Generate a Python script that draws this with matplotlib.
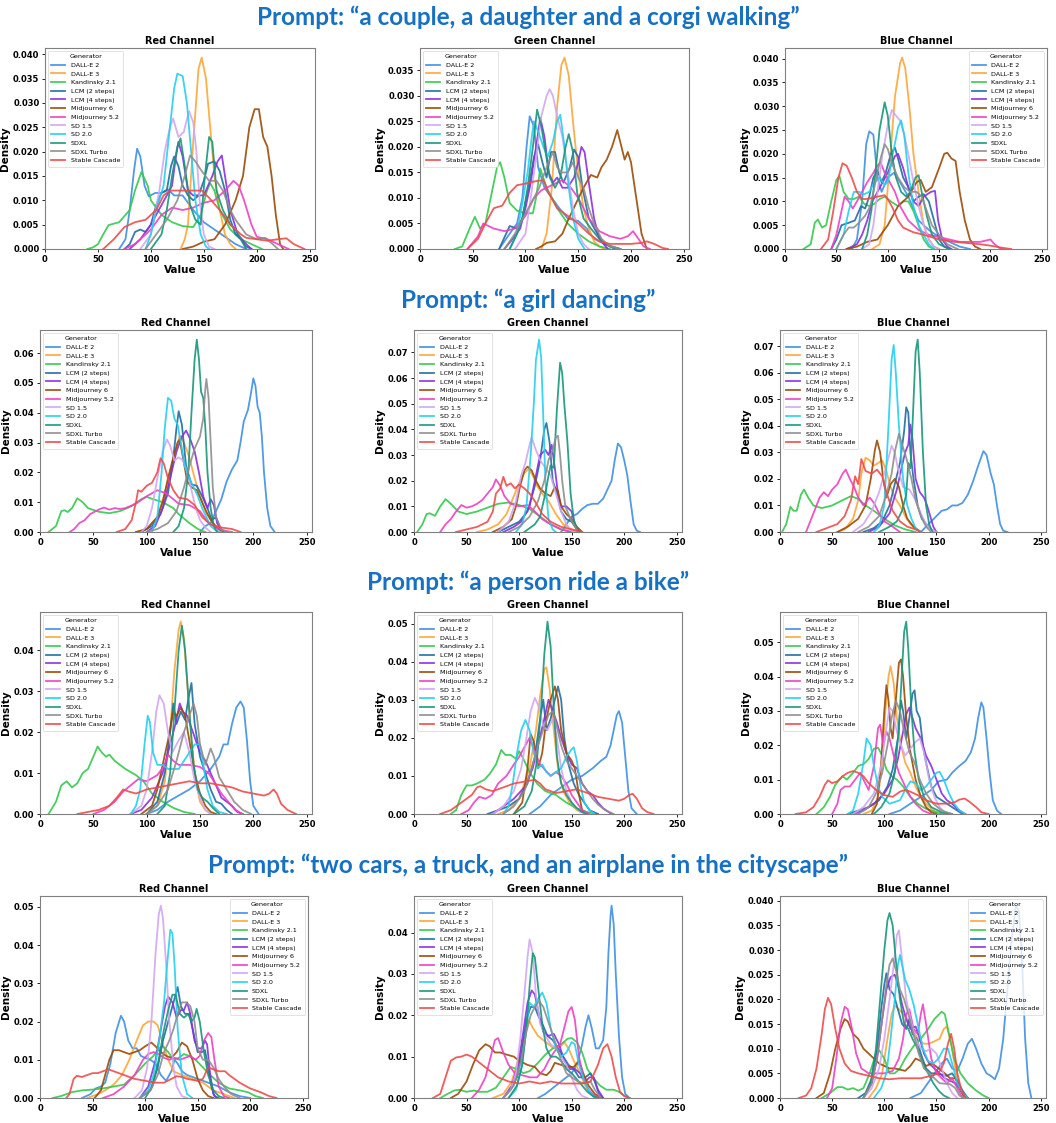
import numpy as np
import matplotlib
matplotlib.use('agg')
import matplotlib.pyplot as plt

# generators and their line colours
generators = ['DALL-E 2', 'DALL-E 3', 'Kandinsky 2.1', 'LCM (2 steps)', 'LCM (4 steps)',
              'Midjourney 6', 'Midjourney 5.2', 'SD 1.5', 'SD 2.0', 'SDXL', 'SDXL Turbo',
              'Stable Cascade']
colors = ['#3d8fe6', '#ffa537', '#33c94c', '#1f6da3', '#8a2ee0', '#9b4a06',
          '#ef3fc4', '#d2a6f2', '#22d0f0', '#16977a', '#8e8e8e', '#f04a4a']

prompts = ['a couple, a daughter and a corgi walking', 'a girl dancing',
           'a person ride a bike', 'two cars, a truck, and an airplane in the cityscape']
channels = ['Red Channel', 'Green Channel', 'Blue Channel']

# density curves: [value, density*1000, value, density*1000, ...]
couple_red = [
    [70,0, 76,2, 80,8, 84,16, 87,20.6, 90,19, 94,13, 98,10.8, 104,11.5, 110,11.5, 116,12.3, 122,11, 130,11, 140,8, 150,5.5, 160,4, 170,2.5, 180,1, 190,0],
    [128,0, 132,2, 135,5, 140,22, 145,37, 148,39.3, 152,35, 156,25, 160,15, 165,8, 170,3, 175,1, 180,0],
    [40,0, 45,0.3, 50,1, 55,3, 60,4.9, 70,5.5, 80,8, 85,12, 91,15.8, 97,13, 100,10, 110,7, 120,5.5, 130,4.7, 140,4.5, 147,7, 153,12, 156,13.5, 160,12, 165,8, 175,4, 185,2, 195,1, 205,0],
    [75,0, 80,1, 85,3.5, 90,4, 95,3.5, 100,5, 105,9, 110,11.5, 115,12, 119,17, 122,19, 126,17, 130,13, 135,11, 140,10, 145,11, 150,14, 154,17.5, 160,18, 165,16, 170,12, 175,6, 180,3, 185,2, 190,0.5, 195,0],
    [80,0, 90,2, 100,5, 110,9, 120,13, 123,18, 126,22, 130,19, 135,12, 140,11, 150,11, 158,15, 163,18, 167,19.2, 170,15, 175,8, 182,3, 190,1, 195,0],
    [130,0, 140,0.5, 150,1.5, 160,2, 170,5, 180,10, 187,15, 193,25, 198,28.7, 202,28.7, 206,23, 210,21, 214,15, 218,7, 222,1, 225,0],
    [75,0, 85,1, 100,4, 110,7, 120,8.5, 130,8, 140,8.5, 150,9.5, 160,10, 170,12, 178,14, 183,13, 188,10, 195,5, 200,2.5, 210,2, 220,1, 230,0],
    [90,0, 100,3, 108,12, 113,20, 118,25, 121,26.8, 126,23, 131,24, 136,28.3, 140,26, 143,20, 146,10, 150,3, 155,0.5, 160,0],
    [95,0, 100,3, 105,8, 112,13, 118,25, 122,33, 125,36, 130,35.5, 134,30, 138,20, 142,10, 147,3, 152,0.5, 155,0],
    [100,0, 110,3, 115,8, 120,15, 125,21, 128,22.7, 132,17, 137,9, 142,6, 147,5, 151,15, 155,23, 158,22, 162,12, 168,8, 175,5, 180,4, 185,2, 190,0],
    [95,0, 105,3, 115,6, 125,10, 132,15, 137,19.2, 142,18, 148,16, 155,14, 162,14, 168,12, 175,8, 180,6, 190,3, 200,2, 208,2.3, 215,1, 220,0],
    [55,0, 65,2, 75,4.5, 85,5.5, 95,6, 105,8, 112,11, 118,12, 130,12, 148,12, 155,10.5, 165,8, 175,5, 185,3, 190,2.3, 200,2, 210,1.7, 220,2, 228,2.2, 235,1, 245,0],
]
couple_green = [
    [75,0, 85,3, 92,5, 97,10, 101,20, 104,26, 108,24, 112,16, 118,12, 125,10, 132,8, 140,6, 150,5.5, 158,4, 165,2, 175,1, 190,0],
    [115,0, 120,3, 125,12, 130,28, 134,36, 137,37.5, 141,34, 145,25, 150,15, 155,8, 160,4, 165,1.5, 170,0.5, 175,0],
    [33,0, 40,0.5, 47,4, 52,6.3, 57,4, 62,5, 68,11, 73,16, 76,17, 80,14, 85,9, 92,7.5, 100,7, 107,7, 110,10, 114,15.8, 120,12, 130,8, 140,5, 150,3, 160,1.5, 170,0.5, 180,0],
    [75,0, 85,4.5, 92,4, 97,6, 103,12, 108,18, 112,20.5, 116,17, 120,14, 124,19, 128,19, 132,15, 136,13, 142,16, 146,19.5, 150,18, 154,12, 160,6, 168,3, 175,1, 185,0],
    [80,0, 88,2, 95,4, 100,8, 105,13, 110,20, 114,25.7, 118,22, 122,15, 126,13, 130,14, 135,12, 140,12, 146,14, 150,17, 153,20, 156,19, 160,13, 165,6, 170,2, 178,0],
    [110,0, 115,0.5, 120,1.2, 128,1.5, 135,3, 140,5.5, 148,9, 155,12, 162,14.5, 168,14, 172,16, 177,17.5, 182,20, 187,23.3, 191,20, 194,17.5, 197,19, 200,17, 205,10, 210,3, 215,0],
    [45,0, 55,2.5, 60,5, 70,4, 80,3.5, 90,4, 100,6.5, 108,10, 115,11.5, 125,12.5, 135,13.5, 143,12, 150,10, 160,6, 170,3.5, 180,2.5, 190,2, 197,2.5, 202,3.5, 207,2, 212,0.5, 218,0],
    [90,0, 100,3, 105,10, 110,18, 115,26, 120,30, 123,31.3, 126,30, 130,26, 135,22, 140,15, 145,8, 150,3, 155,1, 160,0],
    [85,0, 92,3, 97,9, 102,15, 106,22, 108,25, 112,23, 117,20, 121,18, 126,21, 130,25, 133,26.3, 137,20, 141,12, 145,6, 150,2, 156,0],
    [85,0, 92,3, 97,6, 102,12, 107,20, 111,27.3, 115,24, 119,19, 123,14, 128,12, 133,14, 138,20, 141,22.5, 145,19, 149,11, 155,6, 162,4, 170,2, 180,0.5, 190,0],
    [80,0, 90,3, 100,7, 108,10, 113,12, 120,16, 126,19, 130,16, 134,15, 140,15, 145,17, 150,14, 155,12, 160,8, 165,5, 172,2, 180,0.5, 190,0],
    [45,0, 55,2, 62,5, 70,8, 78,8.5, 85,11, 92,12.5, 100,12.8, 110,13.3, 117,13.5, 122,11, 130,8, 140,6.5, 150,5, 160,3, 170,1.5, 180,1, 200,1, 210,1.2, 215,1.5, 222,1, 230,0.2, 235,0],
]
couple_blue = [
    [65,0, 70,2, 75,10, 79,22, 82,24.7, 86,24, 90,15, 94,12, 100,15, 106,16, 112,14, 120,11, 130,6, 140,4, 150,2.5, 160,1.5, 170,0.5, 180,0],
    [85,0, 92,1, 97,5, 102,18, 107,32, 112,39, 114,40.2, 117,38, 121,30, 125,20, 130,12, 135,5, 140,2, 145,0.5, 150,0],
    [18,0, 25,1, 29,5.5, 32,6.2, 36,4.5, 40,5, 45,10, 50,14.5, 53,15.3, 57,12, 62,10.5, 67,10.5, 72,11, 77,9.5, 82,9, 87,9.5, 92,10.5, 97,11, 103,10, 110,9, 115,10, 120,10, 125,8, 130,5, 135,2, 140,0.5, 145,0],
    [45,0, 50,2, 55,5, 62,5.5, 68,6, 74,9, 78,8.5, 82,11, 86,15, 90,16.5, 94,14, 98,16, 103,20, 107,21.3, 110,19, 115,15, 120,13, 125,10, 130,11, 135,11.5, 140,10, 145,6, 150,2, 155,0.5, 160,0],
    [60,0, 70,1, 75,3, 80,6, 85,10, 90,12, 95,14, 100,16, 107,19.5, 110,20, 115,17, 120,13, 125,10, 130,9, 135,11, 142,12, 146,12.2, 149,6, 153,2, 158,0.5, 162,0],
    [60,0, 70,0.5, 80,1.5, 90,2, 100,5, 110,9, 120,11, 128,14, 132,14.5, 137,12, 143,13, 150,17, 155,20, 158,20.2, 162,19, 166,18.5, 170,12, 175,6, 180,2, 185,0.5, 190,0],
    [45,0, 50,3, 55,8, 58,11, 62,10, 66,8.5, 70,10, 75,12, 80,14, 86,16, 90,17.5, 93,18.2, 97,16, 102,14, 107,12, 112,9, 120,6, 130,4, 140,3, 150,2.5, 160,2, 170,1.5, 190,1.5, 196,1.8, 200,2, 203,1.2, 208,0.3, 212,0],
    [75,0, 82,1, 86,5, 90,12, 95,20, 100,26, 104,29.2, 108,28, 112,27, 116,24, 120,20, 125,14, 130,9, 135,5, 140,2, 145,0.5, 150,0],
    [50,0, 57,3, 62,8, 67,12, 72,12, 77,11.5, 82,12, 87,14, 92,15, 97,13.5, 100,14, 105,20, 110,25.5, 113,27, 116,24, 120,16, 125,9, 130,5, 135,3, 140,1, 145,0],
    [75,0, 80,3, 84,8, 88,16, 92,25, 97,30.8, 100,28, 104,20, 108,15, 113,12, 118,11, 122,12, 127,15, 130,15.5, 133,12, 138,7, 143,3, 150,1, 160,0],
    [50,0, 57,3, 62,4.5, 67,4.5, 72,5.5, 78,7, 83,9, 88,14, 93,19, 97,22, 100,21, 104,18, 110,15, 116,13, 122,12, 128,12, 133,11, 138,8, 143,5, 150,3, 158,1, 168,0],
    [35,0, 42,2, 47,8, 52,15, 56,18, 60,17.5, 65,15, 70,12, 75,10.5, 80,10.5, 90,11, 97,11.3, 100,10.5, 105,8.5, 110,6, 115,4.5, 125,3.5, 135,3, 150,2, 165,1.5, 180,1.2, 190,1, 200,0.7, 210,0.3, 220,0],
]
girl_red = [
    [150,0, 155,2, 160,3, 165,7, 170,11, 175,17, 180,21, 185,24, 188,30, 191,37, 195,41, 198,47, 200,51.5, 202,49, 204,42, 206,40, 208,32, 210,20, 213,8, 216,2, 220,0],
    [90,0, 100,1, 110,5, 117,13, 122,20, 127,27, 131,32.3, 135,30, 140,25, 145,18, 150,12, 155,7, 160,4, 165,2, 170,0.5, 175,0],
    [8,0, 15,2, 20,7, 23,7.3, 26,6.7, 30,8, 35,11.3, 40,10, 45,8, 55,6.8, 65,6.3, 75,7, 85,8.5, 95,11, 100,11.8, 106,11, 115,10, 125,8, 130,6, 140,3, 148,1, 155,0],
    [95,0, 105,2, 113,6, 120,13, 125,25, 128,35, 130,40.5, 133,36, 137,22, 142,16, 147,15.5, 152,12, 157,8, 161,4, 165,5, 169,1, 172,0],
    [100,0, 108,2, 115,8, 122,18, 128,27, 133,32, 137,34, 141,31, 145,27, 149,20, 153,12, 157,8, 160,11, 163,9, 166,3, 170,0.5, 173,0],
    [90,0, 100,1, 110,5, 115,10, 120,18, 125,25, 129,30, 131,31, 134,25, 138,17, 142,15, 147,14, 152,10, 157,6, 162,3, 167,1, 172,0],
    [28,0, 32,1, 37,3, 42,4, 47,6, 55,7.5, 60,8.2, 65,7.5, 70,8, 75,7.7, 80,8, 90,9.5, 100,12, 110,14, 118,13, 125,11, 130,9.5, 140,9, 150,7, 158,3, 165,1.5, 172,0.5, 180,0],
    [95,0, 100,2, 105,8, 110,18, 115,27, 119,31, 122,29, 126,24, 130,25, 134,24, 138,20, 142,14, 146,8, 150,4, 155,1.5, 160,0],
    [105,0, 110,5, 114,20, 117,35, 120,45, 123,44, 126,38, 129,36, 132,30, 136,22, 140,18, 144,15, 148,12, 152,8, 156,5, 160,2, 165,0.5, 170,0],
    [125,0, 130,2, 135,8, 139,20, 142,40, 145,58, 147,64.5, 149,58, 151,47, 153,45, 155,35, 157,20, 160,8, 163,2, 166,0],
    [100,0, 110,1, 120,3, 128,7, 135,15, 140,22, 145,28, 150,32, 153,38, 155,48, 156,51.3, 158,45, 160,30, 162,15, 165,5, 170,1, 175,0],
    [72,0, 80,1, 86,4, 90,10, 92,14, 95,13.5, 100,15.5, 105,16.5, 110,20, 113,24.7, 116,23, 120,18, 125,14, 130,11.5, 138,11, 145,9, 152,5, 160,2.5, 170,1.5, 180,1, 188,0],
]
girl_green = [
    [140,0, 145,3, 150,6, 155,7, 160,9, 165,10.5, 170,11, 175,11, 180,13, 184,16.5, 188,20, 191,28, 194,34.5, 197,33, 200,28, 203,22, 206,12, 209,3, 212,0.5, 215,0],
    [60,0, 70,1, 80,3, 88,7, 95,14, 100,19, 105,23, 109,24.5, 113,22, 117,18, 122,15, 128,12, 135,7, 142,3, 150,1, 158,0],
    [3,0, 8,3, 12,7, 15,7.3, 20,6.3, 25,10, 30,12.8, 35,11, 42,8, 50,7, 60,8, 70,9.5, 80,11, 90,11.5, 100,10.5, 110,9, 120,6, 130,3, 140,1, 150,0],
    [80,0, 90,2, 100,4, 108,8, 115,18, 120,28, 124,40, 126,42.5, 129,35, 132,20, 136,15, 140,8, 145,5, 150,4, 155,1, 158,0],
    [85,0, 95,2, 102,4, 110,10, 116,22, 120,30, 125,32, 128,30, 131,34, 134,25, 137,15, 140,10, 145,10, 150,8, 153,3, 157,0],
    [75,0, 85,2, 93,5, 97,10, 101,18, 105,24, 108,25.5, 112,24, 116,20, 120,17, 125,15, 130,14, 134,17.5, 137,16, 140,10, 145,7, 150,5, 155,2, 160,0],
    [25,0, 30,3, 35,5, 40,8, 45,10.5, 50,9.5, 55,10, 60,11, 65,12.5, 70,15, 75,17.5, 78,20.5, 82,18, 86,14, 92,11, 100,10, 108,10.5, 115,8, 122,5, 130,3, 140,1, 150,0],
    [80,0, 90,4, 97,12, 102,22, 106,27, 110,34, 112,37, 115,33, 120,28, 125,25, 130,22, 135,15, 140,8, 145,3, 150,0.5, 155,0],
    [97,0, 103,3, 107,10, 111,30, 114,50, 116,67, 119,75, 121,68, 123,45, 125,20, 128,5, 132,1, 135,0],
    [105,0, 115,3, 120,6, 125,15, 128,22, 130,26, 133,25, 136,48, 139,66, 141,62, 143,50, 146,35, 149,15, 152,5, 155,1, 158,0],
    [90,0, 100,2, 110,6, 118,12, 124,20, 128,28, 132,32, 135,37, 137,37.5, 139,30, 141,20, 144,10, 148,6, 152,3, 156,0],
    [40,0, 50,1, 60,2, 70,4, 75,8, 78,15, 82,17, 85,21.5, 88,18, 92,19, 96,17, 100,18.5, 105,17, 110,15, 115,12, 122,7, 130,4, 140,2, 150,1, 160,0],
]
girl_blue = [
    [135,0, 140,2, 145,4, 150,6, 155,8, 160,8.5, 165,10, 170,10, 175,11, 180,14, 185,19, 190,25, 195,30.5, 198,29, 202,22, 205,18, 208,10, 211,3, 214,0.5, 218,0],
    [55,0, 62,1, 70,5, 75,12, 78,22, 82,28, 86,27, 90,25, 94,26, 98,27, 102,23, 106,17, 110,13, 115,10, 120,6, 125,3, 130,1, 135,0],
    [2,0, 6,3, 10,9.5, 13,8, 16,8, 20,14, 23,16, 27,13, 32,10, 40,9, 50,10, 60,12, 68,13.5, 75,12.5, 82,10, 90,8, 100,5, 110,2.5, 120,1, 130,0],
    [80,0, 90,1.5, 98,4, 105,10, 110,18, 115,26, 119,38, 121,47, 123,45, 125,30, 128,20, 132,10, 136,5, 140,3, 145,1, 150,0],
    [85,0, 95,2, 105,7, 112,16, 117,25, 120,30, 123,33, 125,40.5, 127,35, 130,20, 134,15, 138,13, 141,10, 144,6, 147,2, 150,0],
    [55,0, 65,2, 75,5, 82,10, 87,20, 91,31, 93,34.5, 96,30, 99,20, 102,13, 106,18, 110,20, 114,17, 118,10, 122,5, 128,2, 135,0],
    [25,0, 30,5, 35,10, 38,13, 42,15, 46,13.5, 50,16, 55,18, 60,22, 63,23.5, 67,20, 71,17, 75,13, 80,10, 86,13, 90,11, 95,7, 100,4, 108,2, 115,0],
    [70,0, 80,3, 88,8, 95,15, 100,22, 104,28, 107,32.5, 110,30, 113,24, 118,17, 124,16, 130,12, 135,7, 140,3, 145,1, 150,0],
    [90,0, 95,2, 100,10, 104,40, 107,65, 109,70.5, 111,60, 114,40, 118,20, 122,10, 126,5, 130,1.5, 135,0],
    [95,0, 105,2, 112,4, 117,8, 121,14, 123,26, 125,24, 127,40, 130,68, 132,72.5, 134,60, 137,30, 140,10, 143,3, 146,0],
    [75,0, 85,2, 95,6, 102,14, 107,22, 110,30, 114,37, 117,33, 121,28, 126,20, 130,12, 135,6, 140,2, 145,0],
    [35,0, 45,1.5, 55,3, 62,6, 68,12, 72,21, 75,18, 78,27.5, 82,23, 88,22, 93,23.5, 98,21, 102,15, 108,8, 115,4, 122,2, 130,1, 135,0],
]
bike_red = [
    [100,0, 110,1, 120,3, 130,4.5, 140,6, 150,8, 160,11, 168,14, 172,17, 176,17, 180,22, 184,26, 188,27.5, 191,26, 194,18, 197,8, 200,2, 205,0],
    [100,0, 110,2, 117,8, 122,20, 126,35, 130,45, 132,47, 135,43, 138,32, 142,18, 146,8, 150,3, 155,1, 160,0],
    [8,0, 15,3, 20,7, 25,8, 30,6.5, 35,7.5, 40,10, 45,11, 50,14, 54,16.5, 58,15, 62,14, 65,14.5, 70,13, 80,11, 90,9.5, 97,8, 105,5, 115,3, 125,1.5, 135,0.5, 145,0],
    [100,0, 110,3, 117,10, 122,20, 125,27, 128,22, 132,25, 136,23, 139,28, 142,32, 145,22, 150,14, 155,10, 160,6, 165,3, 170,2.5, 175,1, 180,0],
    [85,0, 95,1, 105,4, 115,10, 122,17, 127,22, 131,27, 134,25, 138,24, 142,21, 146,18, 150,15, 155,13, 160,10, 165,7, 170,4, 175,3, 180,2, 185,0.5, 190,0],
    [95,0, 105,2, 110,6, 115,12, 120,18, 125,25, 128,24, 132,26, 136,24, 140,18, 145,10, 150,5, 155,2, 160,0.5, 165,0],
    [50,0, 60,1, 70,3, 78,5.5, 85,7, 92,8.5, 100,8, 110,9.5, 117,12, 120,14.5, 125,13, 130,12, 140,12, 150,11.5, 158,10, 163,8, 170,5, 178,2.5, 183,1, 190,0],
    [85,0, 95,2, 100,6, 105,15, 109,25, 112,29, 116,27, 120,20, 124,15, 130,18, 135,20, 140,15, 145,8, 150,4, 155,1, 160,0],
    [85,0, 90,2, 94,6, 98,17, 101,24, 103,22.5, 106,15, 110,12, 115,12, 120,11, 130,11, 135,13, 140,15, 145,17, 150,17, 153,12, 157,6, 162,2, 168,0.5, 175,0],
    [110,0, 117,2, 122,10, 126,25, 130,40, 133,46, 136,40, 140,25, 144,12, 148,6, 152,4, 157,3, 162,1.5, 168,0],
    [100,0, 110,2, 120,6, 128,13, 135,20, 140,24, 144,27, 147,24, 150,17, 155,12, 160,16, 163,14, 168,9, 175,6, 182,3, 190,1, 198,0],
    [35,0, 45,0.5, 55,1, 65,2, 72,4, 78,6, 83,5.5, 90,5, 100,6, 110,6.5, 120,7, 130,7.5, 140,8, 150,7.5, 160,7.5, 170,7, 180,6.5, 190,5.5, 200,5, 210,4.5, 215,5, 219,6, 222,5, 226,2.5, 232,1, 240,0],
]
bike_green = [
    [110,0, 120,2, 130,5, 140,7, 150,9, 160,10, 170,12, 178,14, 183,15, 187,18, 190,22, 193,26, 195,27, 198,24, 201,15, 204,6, 207,1.5, 212,0],
    [80,0, 90,1, 100,4, 110,12, 116,22, 120,31, 124,38, 126,38.5, 129,33, 133,22, 137,12, 142,6, 148,3, 155,1, 165,0],
    [35,0, 40,1, 45,5, 50,7.5, 55,7.5, 60,8, 67,9, 72,10.5, 78,13, 83,16.8, 87,15.5, 92,15.5, 97,14.5, 100,16.5, 104,14.5, 110,11, 117,8, 125,6, 135,5, 145,3, 155,1.5, 165,0.5, 175,0],
    [70,0, 80,1, 90,2, 100,4, 108,8, 115,15, 120,25, 123,30, 126,22, 130,25, 134,30, 137,33.5, 140,30, 143,20, 147,13, 152,8, 157,5, 162,3, 167,1, 175,0],
    [75,0, 85,2, 95,4, 105,7, 113,12, 118,18, 124,25, 128,30, 132,27, 136,24, 140,20, 145,16, 150,13, 155,12, 160,8, 165,6, 170,5, 175,3, 180,1.5, 188,0],
    [95,0, 103,3, 108,12, 111,21, 114,19, 118,12, 122,16, 126,25, 130,30, 134,33.5, 137,30, 140,22, 145,16, 150,14, 153,12, 157,5, 160,1, 163,0],
    [45,0, 52,1, 57,3, 62,4.5, 68,4, 74,5, 80,8, 88,10, 95,13, 100,15, 106,18, 110,20, 114,17, 120,13, 125,11.5, 130,10, 135,11, 140,10, 145,8, 150,5, 155,3, 160,1, 167,0],
    [75,0, 85,2, 95,6, 102,12, 107,20, 111,27, 115,30.5, 119,28, 123,23, 127,22, 132,25, 136,20, 140,12, 145,6, 150,3, 158,0.5, 165,0],
    [85,0, 90,2, 94,8, 98,16, 102,22, 106,24.7, 110,22, 114,16, 118,12, 122,13, 126,11, 130,10, 135,11, 140,12, 145,15, 150,17, 152,17.5, 155,14, 158,8, 162,3, 167,1, 172,0],
    [95,0, 105,2, 112,6, 117,14, 121,28, 124,42, 127,50.5, 130,44, 133,28, 136,15, 140,8, 145,5, 150,3, 155,1.5, 160,0.5, 165,0],
    [85,0, 95,2, 105,6, 112,12, 118,18, 124,23, 128,26, 132,27, 135,24, 140,18, 145,14, 150,12, 155,10, 160,8, 165,6, 170,4, 175,2.5, 182,1, 190,0],
    [25,0, 35,1, 45,3, 55,5, 60,7, 63,7.3, 68,6.5, 75,6, 85,7, 95,8, 105,8.5, 115,9, 120,8, 125,6.5, 135,5.5, 145,6, 155,6.5, 165,5.5, 175,4.5, 185,4, 195,3.5, 200,4, 205,5, 208,5.3, 212,4, 217,1.5, 222,0.5, 228,0],
]
bike_blue = [
    [105,0, 115,1, 125,3, 135,5, 145,7, 152,9.5, 160,10, 165,12, 172,14, 178,15.5, 183,18, 187,22, 190,28, 193,32.5, 195,31, 198,22, 201,12, 204,4, 208,1, 212,0],
    [80,0, 88,1, 94,5, 98,15, 101,30, 104,40, 106,43, 109,38, 112,28, 116,20, 120,15, 125,12, 130,8, 135,5, 140,3, 145,1.5, 150,0.5, 155,0],
    [35,0, 42,2, 48,5, 53,8.5, 57,10, 60,11, 64,10, 70,12, 75,14, 80,14.5, 85,16, 90,19, 94,19.3, 98,17, 102,13, 107,11, 112,10, 118,8, 125,5, 132,3, 140,1.5, 150,0.5, 158,0],
    [65,0, 75,1, 85,2, 95,4, 103,8, 108,13, 113,22, 116,33, 118,30, 121,22, 124,28, 127,35, 129,36, 131,30, 134,28, 137,20, 140,15, 145,8, 150,5, 155,4, 160,3, 165,2, 170,1, 175,0],
    [70,0, 80,1, 90,3, 100,6, 108,10, 113,16, 118,24, 121,29, 124,31, 127,28, 130,25, 135,22, 140,17, 145,14, 150,10, 155,6, 160,4, 165,3, 170,1.5, 177,0],
    [88,0, 93,3, 97,15, 100,30, 102,37.5, 104,33, 106,25, 108,22, 111,33, 114,44, 116,45, 118,40, 121,28, 125,18, 130,10, 135,5, 140,2, 145,0.5, 150,0],
    [50,0, 55,3, 58,7, 62,8, 67,8, 72,10, 77,12, 80,10, 85,7, 90,14, 94,25, 96,26, 99,20, 102,24, 105,22, 109,17, 114,12, 120,8, 125,5, 130,3, 137,1, 145,0],
    [70,0, 80,2, 90,6, 97,14, 102,25, 105,31, 108,30, 112,24, 116,20, 120,17, 125,19, 130,21, 134,22, 138,18, 143,10, 148,5, 153,2, 160,0],
    [65,0, 70,1, 75,6, 80,15, 83,22, 87,20, 90,14, 94,8, 98,5, 105,3, 115,4, 120,7, 125,9.5, 130,9, 135,7, 140,8, 145,10, 150,12, 153,12.3, 157,10, 162,6, 167,3, 172,1, 178,0],
    [90,0, 97,2, 105,6, 110,12, 114,25, 117,42, 119,53, 121,56, 123,48, 126,30, 129,18, 133,10, 138,5, 145,2, 155,0.5, 165,0],
    [75,0, 85,2, 92,6, 98,12, 103,20, 107,28, 111,33, 115,30, 119,24, 124,18, 129,15, 134,10, 140,6, 147,3, 155,1, 165,0],
    [15,0, 25,0.5, 32,2, 38,5, 43,8.5, 46,9.8, 50,9, 55,9.5, 60,11, 65,12, 70,12.5, 75,12, 80,11, 85,9, 92,7, 100,5.5, 108,5, 115,6.5, 120,7, 125,6.5, 132,5.5, 140,4, 150,3, 160,3, 168,3.5, 172,4.2, 177,4.5, 182,3.5, 188,2, 193,0.5, 200,0],
]
cars_red = [
    [40,0, 48,1, 53,2.5, 58,3, 62,4, 67,9, 72,17, 77,21.5, 80,20, 84,15, 88,13, 92,13, 96,11, 100,10.5, 105,10, 110,9, 115,6, 120,4.5, 125,7, 128,10, 131,9, 135,7, 140,6, 150,5, 160,4, 170,3, 180,1.5, 190,0.5, 200,0],
    [45,0, 55,1, 62,2, 70,3.5, 78,6, 85,10, 92,15, 98,19, 103,20, 108,20, 112,19, 117,14, 122,10, 127,7, 135,6, 145,5, 155,4, 165,2, 175,1, 185,0],
    [12,0, 20,0.5, 30,1.5, 40,2, 50,2.2, 60,2.5, 70,3, 80,3.5, 90,6, 100,9, 108,11, 113,13, 117,13.5, 122,12, 127,10, 132,10.5, 137,11.5, 142,11, 148,10, 155,8, 162,6, 170,4, 180,2.5, 190,2, 198,1.5, 205,0.5, 212,0],
    [95,0, 105,2, 112,8, 117,15, 122,20, 126,24, 129,27, 131,29, 134,24, 138,22, 142,22, 146,17, 150,12, 154,12, 157,12.5, 160,8, 163,3, 166,0.5, 170,0],
    [95,0, 103,3, 110,10, 115,18, 119,24, 122,26.5, 126,25, 130,21, 134,23, 137,23, 140,25, 143,22, 147,15, 150,13, 154,13, 157,15, 159,14, 162,6, 165,1, 168,0],
    [52,0, 58,2, 62,6, 66,10, 70,12.5, 75,12.5, 80,12, 85,11.5, 90,12, 95,12.5, 100,13.5, 106,14.5, 110,13.5, 115,12, 120,11, 125,10.5, 130,12, 135,14.5, 140,13.5, 145,10, 150,5, 155,2, 160,0.5, 165,0],
    [60,0, 70,1, 80,3, 90,6, 98,10, 103,11.5, 108,12, 113,11.5, 118,10.5, 123,10, 128,10.5, 133,10, 138,10.5, 143,11, 148,10, 152,11, 156,15, 160,17, 163,16, 166,10, 170,3, 175,0.5, 180,0],
    [90,0, 97,2, 102,8, 106,20, 110,38, 113,48, 115,50.3, 117,47, 120,35, 123,20, 127,8, 130,3, 135,0.5, 140,0],
    [95,0, 103,2, 108,6, 113,14, 118,25, 121,35, 124,44, 126,43, 128,35, 131,18, 135,6, 140,1, 145,0],
    [100,0, 107,3, 113,10, 118,18, 122,23, 126,27, 129,27, 133,22, 137,21, 141,22, 144,20, 147,21, 149,23.3, 152,20, 156,12, 160,6, 165,2, 170,0.5, 175,0],
    [95,0, 105,2, 112,6, 118,12, 123,15, 127,18, 131,22, 135,25, 139,25, 143,24, 147,20, 150,13, 155,10, 160,10, 165,8, 170,5, 175,3, 182,1, 190,0],
    [25,0, 28,1, 32,5, 35,5.8, 40,5.5, 45,6, 50,6.5, 55,6.5, 60,7, 65,7.5, 70,7, 80,6, 90,5, 100,4.5, 110,4, 118,4, 125,5, 130,5.7, 135,5.5, 140,5, 150,4.5, 155,5, 160,8, 165,7.5, 170,7, 176,7, 180,6, 190,4, 200,2.5, 210,1.5, 218,0.5, 225,0],
]
cars_green = [
    [118,0, 125,1, 135,3, 145,5, 150,6, 155,8, 160,13, 163,17, 166,20, 169,17, 173,12, 176,12, 180,14, 183,22, 185,35, 187,44, 188,46.5, 190,42, 192,30, 195,15, 198,5, 201,1, 205,0],
    [75,0, 85,1, 93,4, 100,10, 105,15, 109,19, 113,17, 118,15, 123,14, 128,13, 133,12, 138,12, 143,13.5, 147,12, 152,9, 158,6, 163,3, 168,1, 175,0],
    [25,0, 32,1, 38,1.8, 43,2, 50,1.5, 57,1.8, 62,1.5, 70,1.5, 78,2.5, 85,5, 92,7.5, 98,7, 104,6, 110,6.5, 118,8.5, 125,10.5, 132,12, 140,13, 146,14.3, 150,14.5, 155,13.5, 160,11, 165,7, 170,5, 177,3, 183,2, 190,2, 195,1.5, 200,0.5, 205,0],
    [85,0, 92,2, 98,5, 103,12, 107,19, 111,22, 115,22, 118,20, 122,18, 127,15, 132,14, 137,12, 142,10, 147,8, 152,7, 157,5, 163,5, 168,6, 172,4, 176,1, 180,0],
    [85,0, 93,3, 99,8, 104,16, 108,23, 112,26, 115,25, 119,20, 123,16, 128,15, 133,15.5, 138,13, 143,9, 148,7, 153,7, 158,6, 163,4, 167,5, 171,5, 175,2, 180,0],
    [35,0, 42,1, 50,4, 56,8, 62,11.5, 68,13, 72,12.5, 77,11, 82,11, 88,10.5, 95,10, 100,9, 108,8, 115,7.5, 120,6, 126,5.5, 130,6.5, 134,8.5, 140,8, 146,7.5, 152,7.5, 157,9, 161,6, 166,3, 172,1, 178,0],
    [55,0, 62,2, 68,5, 73,10, 77,14, 80,14.5, 85,11, 90,8, 96,6, 103,5.5, 110,5, 117,5, 124,7, 128,9, 133,11, 139,13, 144,18, 147,21, 150,22, 153,19, 157,10, 161,5, 166,2, 172,0.5, 177,0],
    [85,0, 92,2, 97,6, 101,14, 105,25, 108,34, 110,38.3, 113,35, 116,25, 120,18, 125,15, 130,13, 135,12, 140,10, 145,8, 150,5, 155,2, 160,0.5, 165,0],
    [90,0, 97,2, 102,7, 106,15, 110,23, 114,22, 118,24, 122,25.5, 126,23, 130,17, 135,12, 140,10, 145,11, 150,13.5, 153,13, 157,8, 162,4, 167,1.5, 172,0],
    [90,0, 98,3, 103,8, 107,17, 110,27, 113,35, 115,34, 118,27, 122,18, 126,12, 130,10, 135,10, 140,9, 145,7, 150,6, 155,4.5, 160,3, 165,1.5, 170,0.5, 175,0],
    [85,0, 95,3, 102,9, 107,16, 111,20, 115,22, 119,23.5, 123,22, 127,19, 131,16, 135,13, 140,9, 145,6, 150,5, 156,4, 162,3.5, 168,4, 172,2, 178,0],
    [18,0, 25,1, 30,5, 35,9, 40,9.8, 45,10, 50,10.5, 55,10, 60,9, 70,7, 80,5, 90,4, 100,3.5, 110,4, 120,3.5, 130,4, 140,3.5, 160,3.5, 168,4, 175,8, 180,12, 184,13, 188,10, 192,5, 196,1.5, 200,0.5, 205,0],
]
cars_blue = [
    [125,0, 135,1, 145,4, 155,7, 160,8, 165,6, 170,5.5, 175,8, 180,11, 184,12, 188,10, 193,7, 198,5, 202,4.5, 206,3.8, 210,6, 214,12, 218,22, 222,32, 226,39, 229,38, 232,28, 235,12, 238,3, 241,0],
    [85,0, 92,2, 98,5, 103,12, 107,17, 110,18.7, 114,18, 118,17, 122,16, 127,14, 132,12, 138,11, 143,11, 148,11.5, 153,12, 157,14, 160,14.5, 164,11, 168,6, 172,2, 176,0.5, 180,0],
    [40,0, 48,1, 55,2.2, 60,2.2, 65,1.7, 70,2, 75,1.5, 80,2, 86,5, 92,9, 95,9.7, 100,8, 105,5, 110,5, 115,6, 120,8, 128,10.5, 135,12, 142,14, 148,16, 155,17.5, 158,17, 162,13, 167,8, 173,5, 180,3, 188,1.5, 195,0.5, 200,0],
    [75,0, 82,1, 88,4, 93,10, 97,18, 100,23, 102,25.3, 105,22, 109,21, 113,18, 117,15, 121,14, 124,16, 127,13, 131,12, 135,9, 140,6, 145,5, 150,5, 160,4.5, 165,5, 170,3.5, 175,1.5, 180,0],
    [80,0, 88,3, 93,8, 98,16, 102,22, 106,24.5, 110,25, 113,23, 117,19, 121,16, 125,14, 130,14.5, 134,12, 138,9, 143,7, 148,6, 153,5, 158,4, 163,3.5, 168,3, 172,2, 176,0.5, 180,0],
    [35,0, 42,1, 48,5, 53,10, 58,14, 62,16, 65,15.5, 70,13, 75,12, 80,10, 85,9, 90,8, 95,7, 100,6.5, 105,6, 110,6, 120,5.5, 125,6.5, 130,8, 135,7.5, 140,6.5, 146,7, 152,6, 158,5, 163,4, 168,4, 172,2, 176,0.5, 180,0],
    [45,0, 50,2, 54,8, 58,15, 62,18.5, 65,18, 69,14, 73,9, 78,6, 85,5, 100,5, 108,5.5, 114,8, 118,12, 121,17, 124,18, 128,14, 132,13, 135,17, 137,19, 140,15, 145,8, 150,5, 155,4, 160,3, 165,4, 170,2, 175,0],
    [80,0, 88,2, 95,6, 100,12, 105,20, 109,27, 112,33, 114,34, 117,28, 121,20, 125,16, 130,12, 135,10, 140,9.5, 145,10, 150,9, 155,6, 160,3, 165,1, 170,0],
    [90,0, 97,2, 102,5, 106,12, 110,20, 113,27, 115,29, 117,27, 120,24, 124,22, 128,19, 132,15, 137,10, 142,7.5, 147,7, 152,8, 157,10, 161,10, 165,7, 170,3, 175,1, 180,0],
    [80,0, 87,3, 92,10, 96,20, 100,30, 103,36, 105,37.5, 108,35, 111,28, 115,20, 119,15, 123,14, 127,12, 132,10, 137,7, 142,5, 147,3, 152,1.5, 157,0.5, 162,0],
    [80,0, 88,3, 93,8, 98,16, 102,23, 105,27, 108,28.3, 111,26, 115,22, 119,20, 123,17, 128,13, 133,9, 138,6, 143,5, 148,4, 153,3, 163,2.8, 168,2, 172,0.5, 176,0],
    [18,0, 25,0.5, 30,2, 35,6, 40,13, 43,18, 46,20.3, 49,19, 53,14, 57,10, 62,7, 68,5.5, 75,5, 85,4.5, 95,4, 105,3.8, 115,4, 135,4, 145,4.5, 152,5, 157,7, 161,11, 164,13, 167,10, 170,5, 174,1.5, 178,0],
]

panels = [[couple_red, couple_green, couple_blue],
          [girl_red, girl_green, girl_blue],
          [bike_red, bike_green, bike_blue],
          [cars_red, cars_green, cars_blue]]
legend_locs = [['upper left', 'upper left', 'upper right'],
               ['upper left', 'upper left', 'upper left'],
               ['upper left', 'upper left', 'upper left'],
               ['upper right', 'upper left', 'upper right']]

W, H = 1056, 1123
fig = plt.figure(figsize=(W / 100, H / 100), dpi=100)

# pixel layout of the grid: (top, bottom) per row, left edges and widths per row
row_tb = [(48, 249), (330, 532), (612, 814), (896, 1098)]
row_lefts = [[45, 420, 785], [40, 414, 780], [40, 414, 780], [40, 414, 780]]
row_widths = [[270, 269, 262], [272, 268, 266], [272, 268, 266], [268, 268, 266]]
title_y = [17, 300, 582, 865]

for r in range(4):
    fig.text(0.5, 1 - title_y[r] / H, 'Prompt: \u201c' + prompts[r] + '\u201d',
             ha='center', va='center', fontsize=17.5, fontweight='bold',
             color='#1670c4', family='Lato')
    top, bot = row_tb[r]
    for c in range(3):
        left = row_lefts[r][c]
        ax = fig.add_axes([left / W, 1 - bot / H, row_widths[r][c] / W, (bot - top) / H])
        for name, col, curve in zip(generators, colors, panels[r][c]):
            xs = np.array(curve[0::2], dtype=float)
            ys = np.array(curve[1::2], dtype=float) / 1000.0
            ax.plot(xs, ys, color=col, lw=1.3, alpha=0.9, label=name)
        ax.set_xlim(0, 255)
        ax.set_ylim(bottom=0)
        ax.set_xticks([0, 50, 100, 150, 200, 250])
        ax.set_title(channels[c], fontsize=7, fontweight='bold', pad=3)
        ax.set_xlabel('Value', fontsize=7.5, fontweight='bold', labelpad=1)
        ax.set_ylabel('Density', fontsize=7.5, fontweight='bold', labelpad=2)
        ax.tick_params(labelsize=6, length=2.5, width=0.6, pad=1.5)
        for lab in ax.get_xticklabels() + ax.get_yticklabels():
            lab.set_fontweight('bold')
        for sp in ax.spines.values():
            sp.set_color('#808080')
            sp.set_linewidth(0.8)
        leg = ax.legend(loc=legend_locs[r][c], fontsize=4.6, title='Generator',
                        title_fontsize=4.6, handlelength=2.2, borderpad=0.5,
                        labelspacing=0.5, framealpha=0.8)
        leg.get_frame().set_linewidth(0.5)

fig.savefig('out.png', dpi=100)
